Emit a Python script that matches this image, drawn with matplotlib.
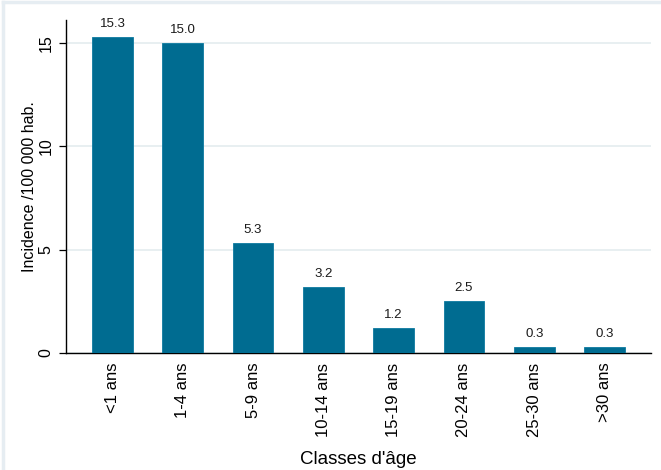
import matplotlib
matplotlib.use("Agg")
import matplotlib.pyplot as plt
from matplotlib.lines import Line2D

categories = ["<1 ans", "1-4 ans", "5-9 ans", "10-14 ans", "15-19 ans", "20-24 ans", "25-30 ans", ">30 ans"]
values = [15.3, 15.0, 5.3, 3.2, 1.2, 2.5, 0.3, 0.3]
labels = ["15.3", "15.0", "5.3", "3.2", "1.2", "2.5", "0.3", "0.3"]
yticks = [0, 5, 10, 15]

plt.rcParams['font.family'] = ['Liberation Sans', 'DejaVu Sans']

fig = plt.figure(figsize=(6.61, 4.70), dpi=100)
fig.patch.set_facecolor('white')
fig.add_artist(Line2D([0.004, 0.004], [0.0, 0.995], transform=fig.transFigure,
                      color='#e6edf2', linewidth=2.5, zorder=0))
fig.add_artist(Line2D([0.004, 1.0], [0.995, 0.995], transform=fig.transFigure,
                      color='#e6edf2', linewidth=2.5, zorder=0))
ax = fig.add_axes([66/661, 1 - 353/470, (651-66)/661, (353-20)/470])

x = list(range(len(categories)))
ax.bar(x, values, width=0.58, color='#006c91', edgecolor='#0d7aa0', linewidth=0.6, zorder=3)
for xi, v, lab in zip(x, values, labels):
    ax.annotate(lab, (xi, v), xytext=(0, 5), textcoords='offset points',
                ha='center', va='bottom', fontsize=9.5, color='#1a1a1a')

ax.set_xlim(-0.66, 7.66)
ax.set_ylim(0, 16.1)
ax.set_yticks(yticks)
ax.set_yticklabels([str(t) for t in yticks], rotation=90, va='center', fontsize=11.5)
ax.set_xticks(x)
ax.set_xticklabels(categories, rotation=90, fontsize=12)
ax.tick_params(axis='x', length=0, pad=7)
ax.tick_params(axis='y', length=5, width=0.9, pad=4, direction='out')
ax.yaxis.grid(True, color='#e4ecef', linewidth=1.2, zorder=0)
ax.set_axisbelow(True)
for s in ['top', 'right']:
    ax.spines[s].set_visible(False)
ax.spines['left'].set_linewidth(1.0)
ax.spines['bottom'].set_linewidth(1.0)
ax.set_ylabel("Incidence /100 000 hab.", fontsize=11.5, labelpad=1)
ax.set_xlabel("Classes d'âge", fontsize=13.5, labelpad=10)

fig.savefig("out.png", dpi=100)
